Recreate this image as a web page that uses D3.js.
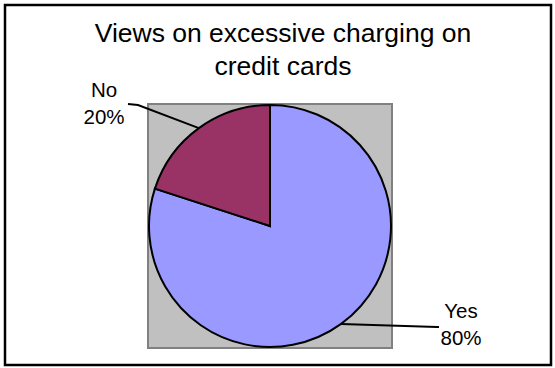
<!DOCTYPE html>
<html>
<head>
<meta charset="utf-8">
<script src="https://cdn.jsdelivr.net/npm/d3@7"></script>
<style>
  body { margin: 0; background: #ffffff; }
  text { font-family: "Liberation Sans", Arial, sans-serif; fill: #000000; }
</style>
</head>
<body>
<div id="container"></div>
<script>
/* DATA */
const categories = ["Yes", "No"];
const shares = [80, 20];
const sliceColors = ["#9999ff", "#993366"];
const titleLines = ["Views on excessive charging on", "credit cards"];

/* CONSTANTS */
const width = 555;
const height = 368;
const center = { x: 270, y: 226 };
const radius = 121;

const svg = d3.select("#container")
  .append("svg")
  .attr("width", width)
  .attr("height", height);

// outer chart frame
svg.append("rect")
  .attr("x", 5)
  .attr("y", 5)
  .attr("width", 546)
  .attr("height", 360)
  .attr("fill", "#ffffff")
  .attr("stroke", "#000000")
  .attr("stroke-width", 2.5);

// plot area (grey square behind the pie)
svg.append("rect")
  .attr("x", center.x - radius - 1)
  .attr("y", center.y - radius - 1)
  .attr("width", radius * 2 + 2)
  .attr("height", radius * 2 + 2)
  .attr("fill", "#c0c0c0")
  .attr("stroke", "#808080")
  .attr("stroke-width", 2);

/* TITLE */
svg.append("text")
  .attr("text-anchor", "middle")
  .style("font-size", "26.5px")
  .selectAll("tspan")
  .data(titleLines)
  .join("tspan")
  .attr("x", 283)
  .attr("y", (d, i) => 42 + i * 33)
  .text(d => d);

/* PIE */
const data = categories.map((c, i) => ({ label: c, value: shares[i], color: sliceColors[i] }));

const pie = d3.pie()
  .value(d => d.value)
  .sort(null);

const arc = d3.arc()
  .innerRadius(0)
  .outerRadius(radius);

const arcs = pie(data);

const g = svg.append("g")
  .attr("transform", `translate(${center.x},${center.y})`);

g.selectAll("path")
  .data(arcs)
  .join("path")
  .attr("d", arc)
  .attr("fill", d => d.data.color)
  .attr("stroke", "#000000")
  .attr("stroke-width", 2);

/* LABELS + LEADER LINES */
const edgePoint = d => {
  const a = (d.startAngle + d.endAngle) / 2;
  return [Math.sin(a) * radius, -Math.cos(a) * radius];
};

const labelPos = {
  Yes: { x: 461, y: 318, line: p => [p, [167, 101], [169, 101]] },
  No: { x: 104, y: 97, line: p => [p, [-132, -121], [-142, -122]] }
};

g.selectAll(".leader")
  .data(arcs)
  .join("path")
  .attr("class", "leader")
  .attr("d", d => d3.line()(labelPos[d.data.label].line(edgePoint(d))))
  .attr("fill", "none")
  .attr("stroke", "#000000")
  .attr("stroke-width", 2);

svg.selectAll(".slice-label")
  .data(arcs)
  .join("text")
  .attr("class", "slice-label")
  .attr("text-anchor", "middle")
  .style("font-size", "20.5px")
  .each(function (d) {
    const pos = labelPos[d.data.label];
    const t = d3.select(this);
    t.append("tspan").attr("x", pos.x).attr("y", pos.y).text(d.data.label);
    t.append("tspan").attr("x", pos.x).attr("y", pos.y + 27).text(d.data.value + "%");
  });
</script>
</body>
</html>
